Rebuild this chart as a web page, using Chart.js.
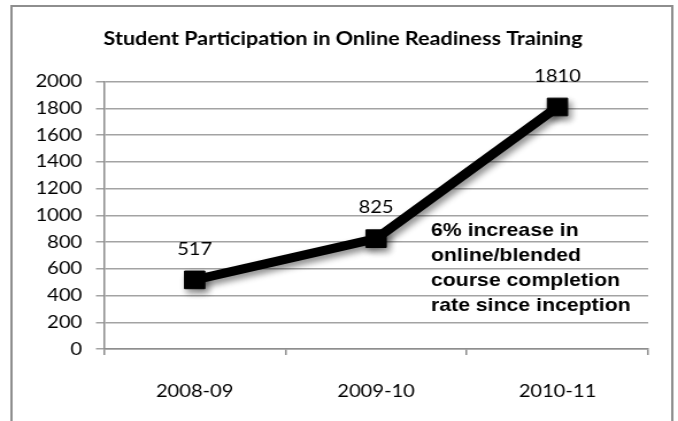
<!DOCTYPE html>
<html>
<head>
<meta charset="utf-8">
<script src="https://cdn.jsdelivr.net/npm/chart.js@4"></script>
<style>
  html, body { margin: 0; padding: 0; background: #fff; overflow: hidden; }
  /* the chart is laid out narrow and widened to fill the frame */
  #wrap { width: 590px; height: 421px; transform: scaleX(1.1492); transform-origin: 0 0; }
</style>
</head>
<body>
<div id="wrap"><canvas id="chart" width="590" height="421"></canvas></div>
<script>
const categories = ['2008-09', '2009-10', '2010-11'];
const participants = [517, 825, 1810];
const noteLines = ['6% increase in', 'online/blended', 'course completion', 'rate since inception'];

const tickFont = { family: 'Lato, "Open Sans", sans-serif', size: 17.5 };

// frame around the whole chart (open at the bottom)
const frame = {
  id: 'frame',
  beforeDraw(chart) {
    const ctx = chart.ctx;
    ctx.save();
    ctx.strokeStyle = '#8e8e8e';
    ctx.lineWidth = 2;
    ctx.beginPath();
    ctx.moveTo(10, 430);
    ctx.lineTo(10, 6);
    ctx.lineTo(585, 6);
    ctx.lineTo(585, 430);
    ctx.stroke();
    ctx.restore();
  }
};

// soft drop shadow under the line and markers
const shadow = {
  id: 'shadow',
  beforeDatasetDraw(chart) {
    const ctx = chart.ctx;
    ctx.save();
    ctx.shadowColor = 'rgba(0,0,0,0.45)';
    ctx.shadowBlur = 6;
    ctx.shadowOffsetX = 2.5;
    ctx.shadowOffsetY = 4;
  },
  afterDatasetDraw(chart) {
    chart.ctx.restore();
  }
};

// value above each point, plus the note text
const labels = {
  id: 'labels',
  afterDatasetsDraw(chart) {
    const ctx = chart.ctx;
    const meta = chart.getDatasetMeta(0);
    ctx.save();
    ctx.fillStyle = '#000';
    ctx.font = '17.5px Lato, "Open Sans", sans-serif';
    ctx.textAlign = 'center';
    ctx.textBaseline = 'middle';
    meta.data.forEach((pt, i) => {
      ctx.fillText(String(participants[i]), pt.x, pt.y - 31);
    });
    ctx.font = 'bold 18.5px "Liberation Sans", Arial, sans-serif';
    ctx.textAlign = 'left';
    ctx.textBaseline = 'alphabetic';
    noteLines.forEach((line, i) => {
      ctx.fillText(line, 375, 236 + i * 25);
    });
    ctx.restore();
  }
};

new Chart(document.getElementById('chart'), {
  type: 'line',
  data: {
    labels: categories,
    datasets: [{
      data: participants,
      borderColor: '#000',
      borderWidth: 9,
      backgroundColor: '#000',
      pointStyle: 'rect',
      pointRadius: 12.5,
      pointBorderWidth: 1,
      pointBorderColor: '#000',
      pointBackgroundColor: '#000',
      tension: 0
    }]
  },
  options: {
    responsive: false,
    animation: false,
    events: [],
    layout: { padding: { left: 7, right: 0, top: 22, bottom: 0 } },
    plugins: {
      legend: { display: false },
      tooltip: { enabled: false },
      title: {
        display: true,
        text: 'Student Participation in Online Readiness Training',
        color: '#000',
        font: { family: 'Lato, "Open Sans", sans-serif', size: 18.8, weight: 'bold' },
        padding: { top: 6, bottom: 31 }
      }
    },
    scales: {
      x: {
        offset: true,
        afterFit(scale) { scale.height = 72; },
        border: { color: '#8e8e8e', width: 1.5 },
        grid: { offset: true, drawOnChartArea: false, drawTicks: true, tickLength: 6, color: '#8e8e8e', lineWidth: 1.5 },
        ticks: { color: '#000', font: tickFont, padding: 26, maxRotation: 0 }
      },
      y: {
        min: 0,
        max: 2000,
        afterFit(scale) { scale.width = 83.5; },
        border: { color: '#8e8e8e', width: 1.5 },
        grid: { color: '#a3a3a3', lineWidth: 1.5, tickLength: 7 },
        ticks: { stepSize: 200, color: '#000', font: tickFont, padding: 12, callback: v => String(v) }
      },
      // empty strip on the right keeps the plot clear of the frame
      spacer: {
        type: 'linear',
        position: 'right',
        afterFit(scale) { scale.width = 26; },
        border: { display: false },
        grid: { display: false },
        ticks: { display: false }
      }
    }
  },
  plugins: [frame, shadow, labels]
});
</script>
</body>
</html>
